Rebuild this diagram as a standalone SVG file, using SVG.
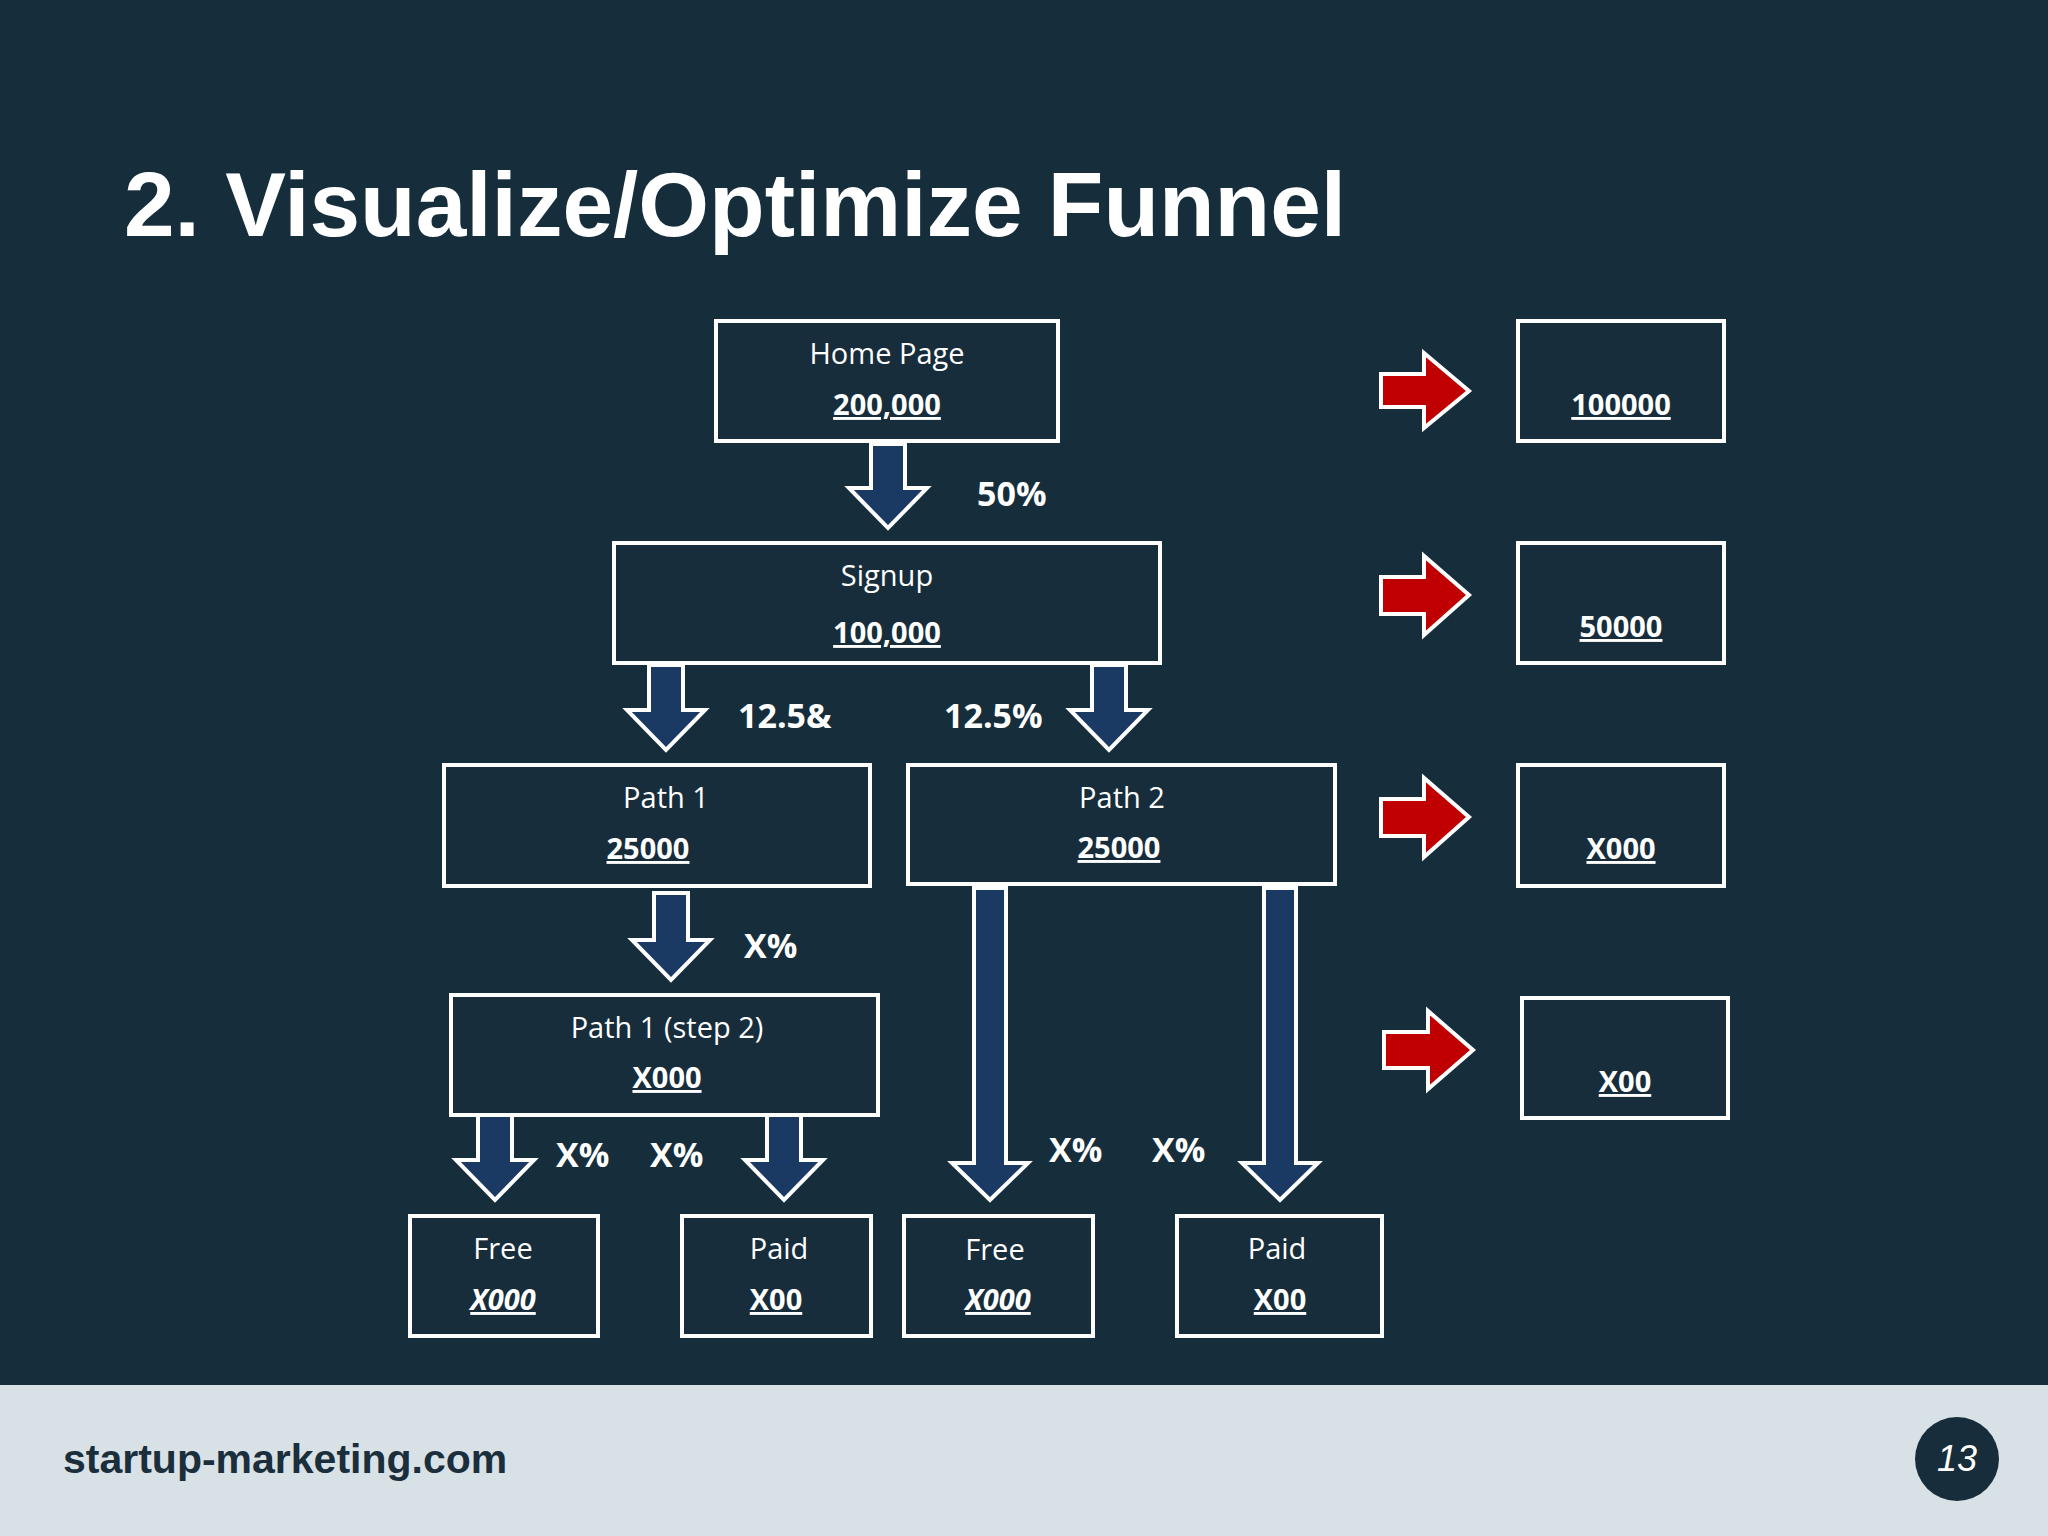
<svg xmlns="http://www.w3.org/2000/svg" width="2048" height="1536" viewBox="0 0 2048 1536">
<style>
.box{fill:#172d3b;stroke:#fff;stroke-width:4}
.t{font-family:"Open Sans","Liberation Sans",sans-serif;font-size:29px;fill:#fff;text-anchor:middle}
.v{font-family:"Open Sans","Liberation Sans",sans-serif;font-size:29px;font-weight:bold;fill:#fff;text-anchor:middle;text-decoration:underline}
.vi{font-style:italic}
.lbl{font-family:"Open Sans","Liberation Sans",sans-serif;font-size:34px;font-weight:bold;fill:#fff}
.da{fill:#1b3a63;stroke:#fff;stroke-width:4;stroke-linejoin:miter}
.ra{fill:#c00000;stroke:#fff;stroke-width:4}
</style>
<rect width="2048" height="1536" fill="#162e3c"/>
<rect y="1385" width="2048" height="151" fill="#d8e1e6"/>
<text x="124" y="236" font-family="Liberation Sans,Arial,sans-serif" font-size="91" font-weight="bold" fill="#fff">2. Visualize/Optimize Funnel</text>
<text x="63" y="1473" font-family="Liberation Sans,Arial,sans-serif" font-size="41" font-weight="bold" fill="#1b2e3c">startup-marketing.com</text>
<circle cx="1957" cy="1459" r="42" fill="#172d3b"/>
<text x="1957" y="1471" font-family="Liberation Sans,Arial,sans-serif" font-size="36" font-style="italic" fill="#fff" text-anchor="middle">13</text>

<g id="connectors">
<path class="da" d="M871 444H905V488H927L888 528L849 488H871Z"/>
<path class="da" d="M649 665H683V710H705L666 750L627 710H649Z"/>
<path class="da" d="M1092 665H1126V710H1148L1109 750L1070 710H1092Z"/>
<path class="da" d="M654 893H688V940H710L671 980L632 940H654Z"/>
<path class="da" d="M478 1115H512V1160H534L495 1200L456 1160H478Z"/>
<path class="da" d="M767 1115H801V1160H823L784 1200L745 1160H767Z"/>
<path class="da" d="M974 888H1006V1163H1028L990 1200L952 1163H974Z"/>
<path class="da" d="M1264 888H1296V1163H1318L1280 1200L1242 1163H1264Z"/>
<path class="ra" d="M1381 374H1424V353L1469 391L1424 428V407H1381Z"/>
<path class="ra" d="M1381 577H1424V556L1469 595L1424 635V614H1381Z"/>
<path class="ra" d="M1381 799H1424V778L1469 817L1424 857V836H1381Z"/>
<path class="ra" d="M1384 1032H1428V1011L1473 1050L1428 1089V1068H1384Z"/>
<text class="lbl" x="977" y="506">50%</text>
<text class="lbl" x="738" y="728">12.5&amp;</text>
<text class="lbl" x="944" y="728">12.5%</text>
<text class="lbl" x="744" y="958">X%</text>
<text class="lbl" x="556" y="1167">X%</text>
<text class="lbl" x="650" y="1167">X%</text>
<text class="lbl" x="1049" y="1162">X%</text>
<text class="lbl" x="1152" y="1162">X%</text>
</g>

<g id="home"><rect class="box" x="716" y="321" width="342" height="120"/><text class="t" x="887" y="364">Home Page</text><text class="v" x="887" y="415">200,000</text></g>
<g id="signup"><rect class="box" x="614" y="543" width="546" height="120"/><text class="t" x="887" y="586">Signup</text><text class="v" x="887" y="643">100,000</text></g>
<g id="path1"><rect class="box" x="444" y="765" width="426" height="121"/><text class="t" x="666" y="808">Path 1</text><text class="v" x="648" y="859">25000</text></g>
<g id="path2"><rect class="box" x="908" y="765" width="427" height="119"/><text class="t" x="1122" y="808">Path 2</text><text class="v" x="1119" y="858">25000</text></g>
<g id="path1step2"><rect class="box" x="451" y="995" width="427" height="120"/><text class="t" x="667" y="1038">Path 1 (step 2)</text><text class="v" x="667" y="1088">X000</text></g>
<g id="free1"><rect class="box" x="410" y="1216" width="188" height="120"/><text class="t" x="503" y="1259">Free</text><text class="v vi" x="503" y="1310">X000</text></g>
<g id="paid1"><rect class="box" x="682" y="1216" width="189" height="120"/><text class="t" x="779" y="1259">Paid</text><text class="v" x="776" y="1310">X00</text></g>
<g id="free2"><rect class="box" x="904" y="1216" width="189" height="120"/><text class="t" x="995" y="1260">Free</text><text class="v vi" x="998" y="1310">X000</text></g>
<g id="paid2"><rect class="box" x="1177" y="1216" width="205" height="120"/><text class="t" x="1277" y="1259">Paid</text><text class="v" x="1280" y="1310">X00</text></g>
<g id="r1"><rect class="box" x="1518" y="321" width="206" height="120"/><text class="v" x="1621" y="415">100000</text></g>
<g id="r2"><rect class="box" x="1518" y="543" width="206" height="120"/><text class="v" x="1621" y="637">50000</text></g>
<g id="r3"><rect class="box" x="1518" y="765" width="206" height="121"/><text class="v" x="1621" y="859">X000</text></g>
<g id="r4"><rect class="box" x="1522" y="998" width="206" height="120"/><text class="v" x="1625" y="1092">X00</text></g>
</svg>
